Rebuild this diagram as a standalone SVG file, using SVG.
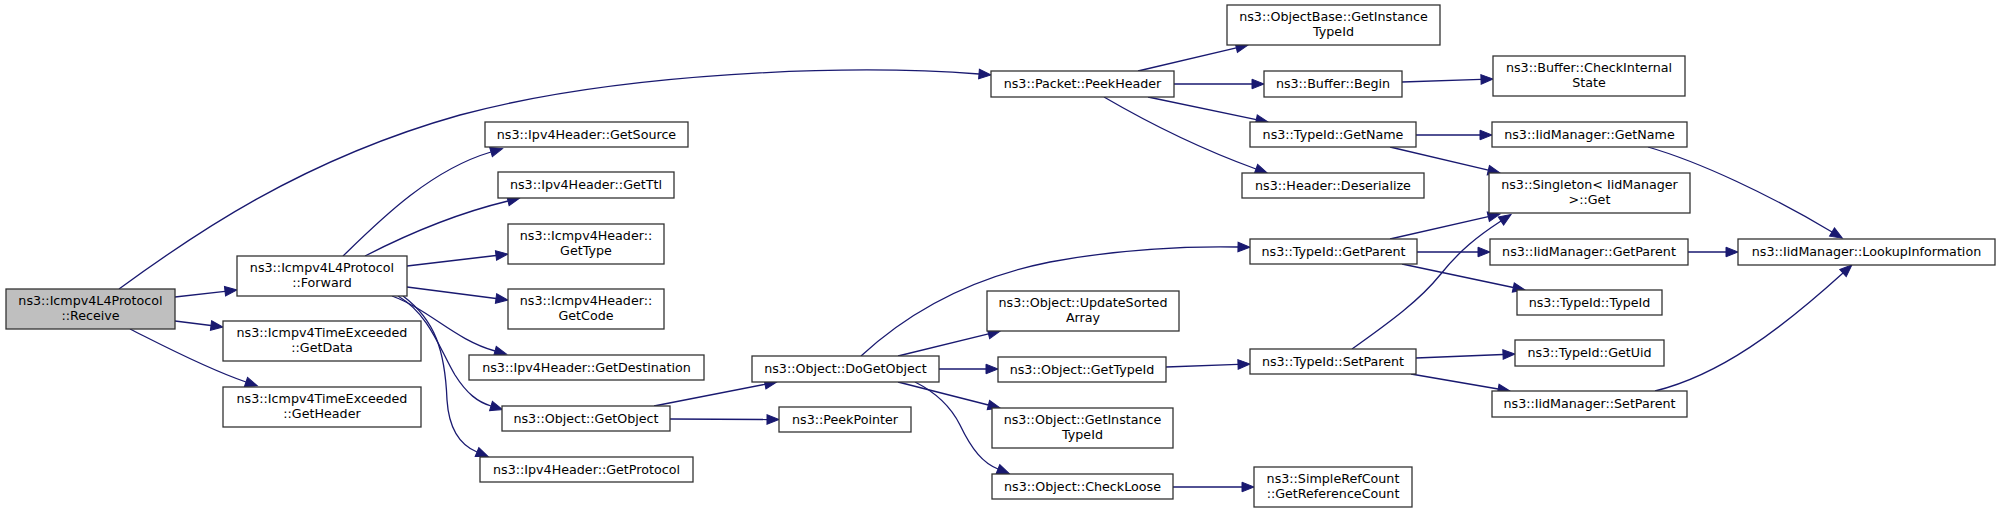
<svg xmlns="http://www.w3.org/2000/svg" width="2000" height="512" viewBox="0 0 2000 512">
<style>
.n rect{fill:#ffffff;stroke:#333333;stroke-width:1.3}
.n.root rect{fill:#bfbfbf}
.n text{font-family:"DejaVu Sans","Liberation Sans",sans-serif;font-size:12.7px;fill:#000000;text-anchor:middle}
.e path{fill:none;stroke:#191970;stroke-width:1.3;marker-end:url(#ah)}
</style>
<defs>
<marker id="ah" markerUnits="userSpaceOnUse" markerWidth="13" markerHeight="11" refX="0" refY="4.8" orient="auto" overflow="visible">
<path d="M0,0 L12,4.8 L0,9.6 z" fill="#191970" stroke="#191970" stroke-width="1"/>
</marker>
</defs>
<rect width="2000" height="512" fill="#ffffff"/>
<g id="edges" class="e">
<path d="M119,289 C190,237 300,160 460,115 C620,72 850,64 979,74"/>
<path d="M175,297 L225,291.3"/>
<path d="M175,321 L211,325.5"/>
<path d="M130,329 C160,344 205,368 246,382"/>
<path d="M343,256 C380,220 430,170 491,152"/>
<path d="M365,256 C400,238 450,215 508,201"/>
<path d="M407,266 L496,255.5"/>
<path d="M407,287 L496,298.5"/>
<path d="M392,296 C430,310 455,340 495,351"/>
<path d="M398,296 C430,315 440,350 455,375 C467,394 478,402 491,406"/>
<path d="M403,296 C435,320 445,350 447,400 C449,430 460,445 477,452"/>
<path d="M654,406 L765,384.3"/>
<path d="M670,419 L767,419.5"/>
<path d="M861,356 C900,320 960,280 1050,262 C1120,249 1180,246 1238,247"/>
<path d="M898,356 L988.5,333.9"/>
<path d="M939,369 L986,369"/>
<path d="M898,382 L988.4,405"/>
<path d="M915,382 C935,392 950,405 960,425 C972,450 983,463 998,469"/>
<path d="M1138,71 L1236.3,47.8"/>
<path d="M1174,84 L1252,84"/>
<path d="M1148,97 L1256.3,119.6"/>
<path d="M1104,97 C1140,118 1190,145 1256,169"/>
<path d="M1402,82 L1481,79.4"/>
<path d="M1416,135 L1480,135"/>
<path d="M1390,147 L1488.3,170.2"/>
<path d="M1648,147 C1700,162 1770,195 1832,232"/>
<path d="M1390,239 L1488.3,216.7"/>
<path d="M1417,252 L1478,252"/>
<path d="M1402,264 L1513.3,287.5"/>
<path d="M1688,252 L1726,252"/>
<path d="M1352,349 C1390,322 1420,300 1440,275 C1460,250 1478,236 1501,221"/>
<path d="M1416,358 L1503,354.5"/>
<path d="M1411,374 L1498.2,389"/>
<path d="M1655,391 C1720,375 1780,330 1843,273"/>
<path d="M1166,367 L1238,364.4"/>
<path d="M1173,487 L1242,487"/>
</g>
<g id="n_receive" class="n root"><rect x="6" y="289" width="169" height="40"/><text x="90.5" y="305">ns3::Icmpv4L4Protocol</text><text x="90.5" y="320">::Receive</text></g>
<g id="n_forward" class="n"><rect x="237" y="256" width="170" height="40"/><text x="322" y="272">ns3::Icmpv4L4Protocol</text><text x="322" y="287">::Forward</text></g>
<g id="n_getdata" class="n"><rect x="223" y="321" width="198" height="40"/><text x="322" y="337">ns3::Icmpv4TimeExceeded</text><text x="322" y="352">::GetData</text></g>
<g id="n_getheader" class="n"><rect x="223" y="387" width="198" height="40"/><text x="322" y="403">ns3::Icmpv4TimeExceeded</text><text x="322" y="418">::GetHeader</text></g>
<g id="n_peekheader" class="n"><rect x="991" y="71" width="183" height="26"/><text x="1082.5" y="88">ns3::Packet::PeekHeader</text></g>
<g id="n_getsource" class="n"><rect x="485" y="122" width="203" height="25"/><text x="586.5" y="139">ns3::Ipv4Header::GetSource</text></g>
<g id="n_getttl" class="n"><rect x="498" y="172" width="176" height="26"/><text x="586" y="189">ns3::Ipv4Header::GetTtl</text></g>
<g id="n_gettype" class="n"><rect x="508" y="224" width="156" height="40"/><text x="586" y="240">ns3::Icmpv4Header::</text><text x="586" y="255">GetType</text></g>
<g id="n_getcode" class="n"><rect x="508" y="289" width="156" height="40"/><text x="586" y="305">ns3::Icmpv4Header::</text><text x="586" y="320">GetCode</text></g>
<g id="n_getdest" class="n"><rect x="469" y="355" width="235" height="25"/><text x="586.5" y="372">ns3::Ipv4Header::GetDestination</text></g>
<g id="n_getobject" class="n"><rect x="502" y="406" width="168" height="25"/><text x="586" y="423">ns3::Object::GetObject</text></g>
<g id="n_getprotocol" class="n"><rect x="480" y="457" width="213" height="25"/><text x="586.5" y="474">ns3::Ipv4Header::GetProtocol</text></g>
<g id="n_obase_git" class="n"><rect x="1227" y="5" width="213" height="40"/><text x="1333.5" y="21">ns3::ObjectBase::GetInstance</text><text x="1333.5" y="36">TypeId</text></g>
<g id="n_buf_begin" class="n"><rect x="1264" y="71" width="138" height="26"/><text x="1333" y="88">ns3::Buffer::Begin</text></g>
<g id="n_tid_getname" class="n"><rect x="1250" y="122" width="166" height="25"/><text x="1333" y="139">ns3::TypeId::GetName</text></g>
<g id="n_hdr_deser" class="n"><rect x="1242" y="173" width="182" height="25"/><text x="1333" y="190">ns3::Header::Deserialize</text></g>
<g id="n_buf_check" class="n"><rect x="1493" y="56" width="192" height="40"/><text x="1589" y="72">ns3::Buffer::CheckInternal</text><text x="1589" y="87">State</text></g>
<g id="n_iid_getname" class="n"><rect x="1492" y="122" width="195" height="25"/><text x="1589.5" y="139">ns3::IidManager::GetName</text></g>
<g id="n_singleton" class="n"><rect x="1489" y="173" width="201" height="40"/><text x="1589.5" y="189">ns3::Singleton&lt; IidManager</text><text x="1589.5" y="204">&gt;::Get</text></g>
<g id="n_iid_getparent" class="n"><rect x="1490" y="239" width="198" height="26"/><text x="1589" y="256">ns3::IidManager::GetParent</text></g>
<g id="n_lookup" class="n"><rect x="1738" y="239" width="257" height="26"/><text x="1866.5" y="256">ns3::IidManager::LookupInformation</text></g>
<g id="n_tid_typeid" class="n"><rect x="1517" y="290" width="145" height="25"/><text x="1589.5" y="307">ns3::TypeId::TypeId</text></g>
<g id="n_tid_getuid" class="n"><rect x="1515" y="340" width="149" height="26"/><text x="1589.5" y="357">ns3::TypeId::GetUid</text></g>
<g id="n_iid_setparent" class="n"><rect x="1492" y="391" width="195" height="26"/><text x="1589.5" y="408">ns3::IidManager::SetParent</text></g>
<g id="n_tid_getparent" class="n"><rect x="1250" y="239" width="167" height="25"/><text x="1333.5" y="256">ns3::TypeId::GetParent</text></g>
<g id="n_tid_setparent" class="n"><rect x="1250" y="349" width="166" height="25"/><text x="1333" y="366">ns3::TypeId::SetParent</text></g>
<g id="n_updsorted" class="n"><rect x="987" y="291" width="192" height="40"/><text x="1083" y="307">ns3::Object::UpdateSorted</text><text x="1083" y="322">Array</text></g>
<g id="n_obj_gettypeid" class="n"><rect x="998" y="357" width="168" height="25"/><text x="1082" y="374">ns3::Object::GetTypeId</text></g>
<g id="n_obj_git" class="n"><rect x="992" y="408" width="181" height="40"/><text x="1082.5" y="424">ns3::Object::GetInstance</text><text x="1082.5" y="439">TypeId</text></g>
<g id="n_checkloose" class="n"><rect x="992" y="474" width="181" height="25"/><text x="1082.5" y="491">ns3::Object::CheckLoose</text></g>
<g id="n_simplerefcount" class="n"><rect x="1254" y="467" width="158" height="40"/><text x="1333" y="483">ns3::SimpleRefCount</text><text x="1333" y="498">::GetReferenceCount</text></g>
<g id="n_dogetobject" class="n"><rect x="752" y="356" width="187" height="26"/><text x="845.5" y="373">ns3::Object::DoGetObject</text></g>
<g id="n_peekpointer" class="n"><rect x="779" y="407" width="132" height="25"/><text x="845" y="424">ns3::PeekPointer</text></g>
</svg>
